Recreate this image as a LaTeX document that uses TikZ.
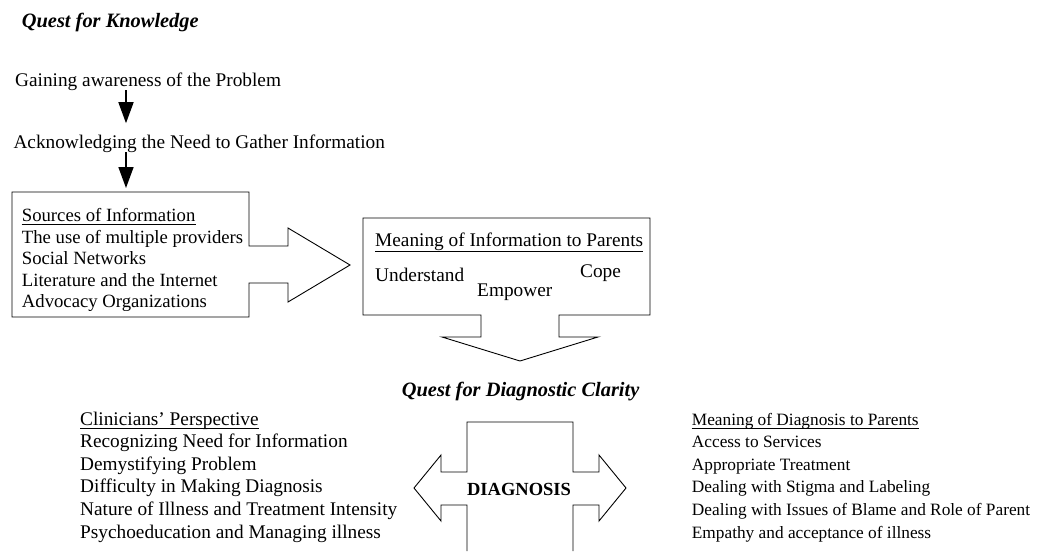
\documentclass[tikz,border=0pt]{standalone}
\usepackage{fontspec}
\setmainfont{Liberation Serif}
\usetikzlibrary{arrows.meta}
\newcommand\mainsz{\fontsize{19.3pt}{23pt}\selectfont}
\newcommand\srcsz{\fontsize{18.7pt}{22pt}\selectfont}
\newcommand\rightsz{\fontsize{17.3pt}{21pt}\selectfont}
\newcommand\titlesz{\fontsize{20.4pt}{24pt}\selectfont\bfseries\itshape}
\newcommand\diagsz{\fontsize{18.5pt}{22pt}\selectfont\bfseries}
\tikzset{
  txt/.style={anchor=base west, inner sep=0pt, font=\mainsz},
  srctxt/.style={txt, font=\srcsz},
  rtxt/.style={txt, font=\rightsz},
  ttl/.style={anchor=base west, inner sep=0pt, font=\titlesz},
  shapeline/.style={draw=black, line width=0.9pt, line join=miter},
  ulinestyle/.style={draw=black, line width=0.8pt},
  flowarrow/.style={draw=black, line width=1.6pt, -{Triangle[width=15pt,length=21pt]}}
}
\begin{document}
\begin{tikzpicture}[x=1pt, y=-1pt]
\useasboundingbox (0,0) rectangle (1040,551);

% titles and top flow
\node[ttl] (qk) at (21.7,28) {Quest for Knowledge};
\node[txt] (gain) at (15,86) {Gaining awareness of the Problem};
\node[txt] (ack) at (13.3,148) {Acknowledging the Need to Gather Information};
\coordinate (ax) at (126,0);
\coordinate (boxtop) at (126,192);
\draw[flowarrow, shorten >=11pt] (gain.south -| ax) -- (ack.north -| ax);
\draw[flowarrow, shorten >=4pt] (ack.south -| ax) -- (boxtop);

% sources box with right arrow
\draw[shapeline] (12,192) -- (249,192) -- (249,246) -- (288,246) -- (288,228)
  -- (350,265) -- (288,302) -- (288,283) -- (249,283) -- (249,317) -- (12,317) -- cycle;
\node[srctxt] (src) at (21.7,221.5) {Sources of Information};
\draw[ulinestyle] ([yshift=-3pt]src.base west) -- ([yshift=-3pt]src.base east);
\node[srctxt] (s1) at (21.7,243) {The use of multiple providers};
\node[srctxt] (s2) at (21.7,264.5) {Social Networks};
\node[srctxt] (s3) at (21.7,286) {Literature and the Internet};
\node[srctxt] (s4) at (21.7,307.5) {Advocacy Organizations};

% meaning box with down arrow
\draw[shapeline] (363,218) -- (650,218) -- (650,315) -- (559,315) -- (559,337)
  -- (598,337) -- (520,361) -- (442,337) -- (481,337) -- (481,315) -- (363,315) -- cycle;
\node[txt] (mt) at (375,246) {Meaning of Information to Parents};
\draw[ulinestyle] ([yshift=-5.5pt]mt.base west) -- ([yshift=-5.5pt]mt.base east);
\node[txt] (und) at (375,281.5) {Understand};
\node[txt] (emp) at (477,296.5) {Empower};
\node[txt] (cope) at (580,277.5) {Cope};

% quest for diagnostic clarity
\node[ttl] (qd) at (401.7,396.5) {Quest for Diagnostic Clarity};

% diagnosis double arrow shape
\draw[shapeline] (467,551) -- (467,505) -- (441,505) -- (441,521) -- (414,488)
  -- (441,455) -- (441,472) -- (467,472) -- (467,422) -- (573,422) -- (573,472)
  -- (599,472) -- (599,455) -- (626,488) -- (599,521) -- (599,505) -- (573,505) -- (573,551);
\node[anchor=base, inner sep=0pt, font=\diagsz] (dg) at (519,495) {DIAGNOSIS};

% clinicians' perspective
\node[txt] (cp) at (80,425) {Clinicians’ Perspective};
\draw[ulinestyle] ([yshift=-3pt]cp.base west) -- ([yshift=-3pt]cp.base east);
\node[txt] (c1) at (80,447.6) {Recognizing Need for Information};
\node[txt] (c2) at (80,470.2) {Demystifying Problem};
\node[txt] (c3) at (80,492.8) {Difficulty in Making Diagnosis};
\node[txt] (c4) at (80,515.4) {Nature of Illness and Treatment Intensity};
\node[txt] (c5) at (80,538) {Psychoeducation and Managing illness};

% meaning of diagnosis
\node[rtxt] (md) at (691.7,425) {Meaning of Diagnosis to Parents};
\draw[ulinestyle] ([yshift=-3pt]md.base west) -- ([yshift=-3pt]md.base east);
\node[rtxt] (m1) at (691.7,447.6) {Access to Services};
\node[rtxt] (m2) at (691.7,470.2) {Appropriate Treatment};
\node[rtxt] (m3) at (691.7,492.8) {Dealing with Stigma and Labeling};
\node[rtxt] (m4) at (691.7,515.4) {Dealing with Issues of Blame and Role of Parent};
\node[rtxt] (m5) at (691.7,538) {Empathy and acceptance of illness};
\end{tikzpicture}
\end{document}
